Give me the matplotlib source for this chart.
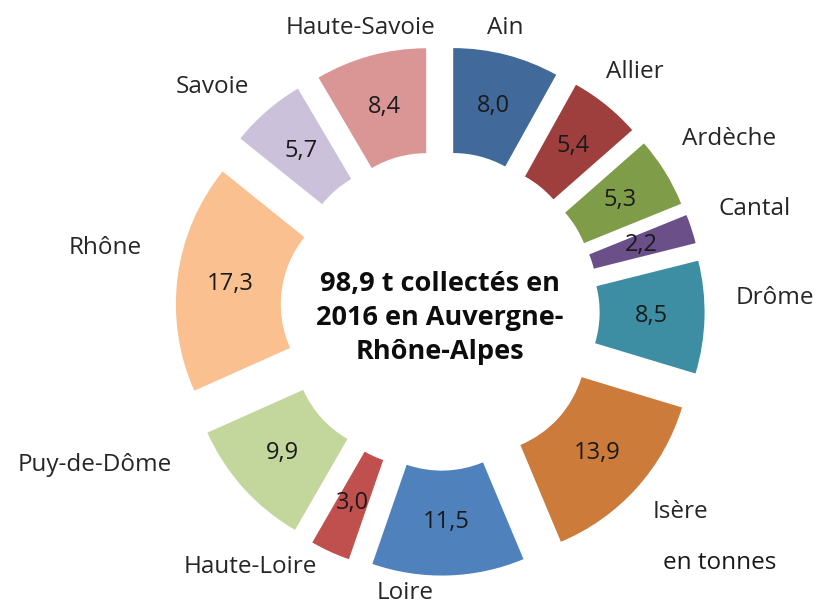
import matplotlib.pyplot as plt

# Tonnages collectés par département (en tonnes)
departements = ["Ain", "Allier", "Ardèche", "Cantal", "Drôme", "Isère",
                "Loire", "Haute-Loire", "Puy-de-Dôme", "Rhône", "Savoie",
                "Haute-Savoie"]
tonnes = [8.0, 5.4, 5.3, 2.2, 8.5, 13.9, 11.5, 3.0, 9.9, 17.3, 5.7, 8.4]
couleurs = ["#41699a", "#9e3f3e", "#7f9d48", "#6a4f88", "#3d8ea3", "#cc7b3b",
            "#4f81bd", "#c0504d", "#c3d69b", "#fac090", "#ccc1da", "#d99694"]

titre = "98,9 t collectés en\n2016 en Auvergne-\nRhône-Alpes"

# label name positions, pixel offsets from the centre (x right, y up)
label_pos = [(65, 283), (195, 239), (289, 172), (315, 102), (335, 13),
             (240, -201), (-35, -282), (-190, -256), (-345, -154),
             (-335, 63), (-228, 224), (-80, 283)]

W, H = 818, 607
cx, cy = 440, 311  # pie centre in pixels (from top-left)
R = 212.0          # outer radius in pixels

plt.rcParams['font.family'] = ['Open Sans', 'DejaVu Sans']

fig = plt.figure(figsize=(W / 100, H / 100), dpi=100)
ax = fig.add_axes([0, 0, 1, 1])

wedges, texts, autotexts = ax.pie(
    tonnes, colors=couleurs, startangle=90, counterclock=False,
    explode=[0.248] * len(tonnes), radius=1.0, autopct='%1.1f',
    pctdistance=0.75, wedgeprops=dict(width=0.495, edgecolor='none'),
    textprops=dict(fontsize=17, color='#1a1a1a'))

for t, v in zip(autotexts, tonnes):
    t.set_text(f"{v:.1f}".replace('.', ','))

for name, (dx, dy) in zip(departements, label_pos):
    ax.text(dx / R, dy / R, name, ha='center', va='center',
            fontsize=17.5, color='#262626')

ax.text(0, -(318 - cy) / R, titre, ha='center', va='center', fontsize=19.5,
        fontweight='bold', color='#0d0d0d', linespacing=1.4)

ax.text((720 - cx) / R, -(563 - cy) / R, "en tonnes", ha='center',
        va='center', fontsize=17.5, color='#1a1a1a')

ax.set_xlim(-cx / R, (W - cx) / R)
ax.set_ylim(-(H - cy) / R, cy / R)
ax.set_aspect('auto')
ax.axis('off')

fig.savefig("out.png", dpi=100, facecolor='white')
